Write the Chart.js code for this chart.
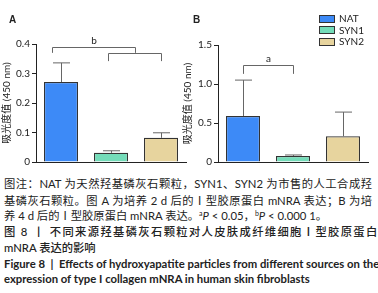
<!DOCTYPE html>
<html>
<head>
<meta charset="utf-8">
<script src="https://cdn.jsdelivr.net/npm/chart.js@4.4.1/dist/chart.umd.min.js"></script>
<style>
  body { margin: 0; background: #fff; width: 378px; height: 293px; overflow: hidden; position: relative;
         font-family: Lato, "Noto Sans CJK SC", sans-serif; color: #222; }
  canvas { position: absolute; top: 0; }
  .panel { position: absolute; font: bold 10px "Liberation Sans", Arial, sans-serif; }
  .legend { position: absolute; left: 319px; top: 13px; font-size: 10px; line-height: 11.5px; }
  .legend div { display: flex; align-items: center; height: 11.5px; }
  .legend span.sw { width: 14px; height: 6px; border: 1px solid #333; margin-right: 4px; }
  .cap { position: absolute; left: 4px; width: 368px; height: 16px; line-height: 16px; font-size: 11.3px; white-space: nowrap; }
  .full { text-align: justify; text-align-last: justify; }
  .bold { font-weight: bold; font-size: 11.3px; }
  sup { font-size: 7px; vertical-align: 4px; line-height: 0; }
</style>
</head>
<body>
<canvas id="chartA" width="190" height="172" style="left:0"></canvas>
<canvas id="chartB" width="196" height="172" style="left:182px"></canvas>
<div class="panel" style="left:9px;top:14px">A</div>
<div class="panel" style="left:193px;top:14px">B</div>
<div class="legend" id="legend"></div>

<div class="cap full" style="top:176px">图注：NAT 为天然羟基磷灰石颗粒，SYN1、SYN2 为市售的人工合成羟</div>
<div class="cap full" style="top:193px">基磷灰石颗粒。图 A 为培养 2 d 后的Ⅰ型胶原蛋白 mNRA 表达；B 为培</div>
<div class="cap" style="top:208px">养 4 d 后的Ⅰ型胶原蛋白 mNRA 表达。<sup>a</sup><i>P</i> &lt; 0.05，<sup>b</sup><i>P</i> &lt; 0.000 1。</div>
<div class="cap" style="top:224px;font-weight:500;letter-spacing:1.35px">图 8 丨 不同来源羟基磷灰石颗粒对人皮肤成纤维细胞Ⅰ型胶原蛋白</div>
<div class="cap" style="top:240px;font-weight:500">mNRA 表达的影响</div>
<div class="cap full bold" style="top:256px">Figure 8&nbsp; | &nbsp;Effects of hydroxyapatite particles from different sources on the</div>
<div class="cap bold" style="top:271px">expression of type I collagen mNRA in human skin fibroblasts</div>

<script>
// groups
const categories = ['NAT', 'SYN1', 'SYN2'];
const barColors = ['#3d8af7', '#74dcb9', '#e7d49e'];

// panel A: 2 d
const meansA = [0.271, 0.031, 0.082];
const errA = [0.065, 0.007, 0.017];
const ticksA = [0, 0.1, 0.2, 0.3, 0.4];

// panel B: 4 d
const meansB = [0.59, 0.077, 0.33];
const errB = [0.46, 0.013, 0.31];
const ticksB = [0, 0.5, 1.0, 1.5];

// significance brackets (x in category units, y in data units)
const bracketsA = [
  { from: -0.18, to: 1.48, y: 0.39, leg: 0.37, label: 'b' },
  { from: 0.94, to: 2.0, y: 0.37, leg: 0.342, label: '' }
];
const bracketsB = [
  { from: 0, to: 1, y: 1.24, leg: 1.13, label: 'a' }
];

const yTitle = '吸光度值 (450 nm)';
const fontFam = 'Lato, "Noto Sans CJK SC", sans-serif';

const extras = {
  id: 'extras',
  afterDatasetsDraw(chart, args, opts) {
    const ctx = chart.ctx;
    const xs = chart.scales.x, ys = chart.scales.y;
    const meta = chart.getDatasetMeta(0);
    ctx.save();
    // error bars (upper only)
    ctx.strokeStyle = '#666';
    ctx.lineWidth = 1;
    meta.data.forEach((bar, i) => {
      const top = ys.getPixelForValue(opts.means[i] + opts.errs[i]);
      const cap = bar.width * 0.25;
      const x = Math.round(bar.x) + 0.5;
      ctx.beginPath();
      ctx.moveTo(x, bar.y);
      ctx.lineTo(x, top);
      ctx.moveTo(x - cap, top);
      ctx.lineTo(x + cap, top);
      ctx.stroke();
    });
    // brackets
    const step = xs.getPixelForValue(1) - xs.getPixelForValue(0);
    const px = u => xs.getPixelForValue(0) + u * step;
    ctx.fillStyle = '#222';
    ctx.font = '10px ' + fontFam;
    ctx.textAlign = 'center';
    ctx.textBaseline = 'alphabetic';
    opts.brackets.forEach(b => {
      const x1 = Math.round(px(b.from)) + 0.5, x2 = Math.round(px(b.to)) + 0.5;
      const y0 = Math.round(ys.getPixelForValue(b.y)) + 0.5;
      const yl = ys.getPixelForValue(b.leg);
      ctx.beginPath();
      ctx.moveTo(x1, yl);
      ctx.lineTo(x1, y0);
      ctx.lineTo(x2, y0);
      ctx.lineTo(x2, yl);
      ctx.stroke();
      if (b.label) ctx.fillText(b.label, (x1 + x2) / 2, y0 - 4);
    });
    ctx.restore();
  }
};

function makeChart(id, means, errs, ticks, brackets, padRight, padTop, titlePad) {
  return new Chart(document.getElementById(id), {
    type: 'bar',
    data: {
      labels: categories,
      datasets: [{
        data: means,
        backgroundColor: barColors,
        borderColor: '#333',
        borderWidth: 1.2,
        categoryPercentage: 1,
        barPercentage: 0.68
      }]
    },
    options: {
      responsive: false,
      animation: false,
      devicePixelRatio: 1,
      layout: { padding: { left: 0, right: padRight, top: padTop, bottom: 10 } },
      plugins: {
        legend: { display: false },
        tooltip: { enabled: false },
        extras: { means: means, errs: errs, brackets: brackets }
      },
      scales: {
        x: {
          ticks: { display: false },
          grid: { drawOnChartArea: false, drawTicks: false },
          border: { color: '#222', width: 1 },
          afterFit: s => { s.height = 0; }
        },
        y: {
          min: ticks[0],
          max: ticks[ticks.length - 1],
          afterBuildTicks: s => { s.ticks = ticks.map(v => ({ value: v })); },
          ticks: {
            color: '#222',
            padding: 2,
            font: { family: fontFam, size: 10 },
            callback: v => v === 0 ? '0' : Number(v).toFixed(1)
          },
          grid: { drawOnChartArea: false, drawTicks: true, tickLength: 4, color: '#222' },
          border: { color: '#222', width: 1 },
          title: {
            display: true,
            text: yTitle,
            color: '#222',
            padding: titlePad,
            font: { family: fontFam, size: 10 }
          },
          afterFit: s => { s.width = 36; }
        }
      }
    },
    plugins: [extras]
  });
}

makeChart('chartA', meansA, errA, ticksA, bracketsA, 4, 44, 1);
makeChart('chartB', meansB, errB, ticksB, bracketsB, 10, 45, 0);

// legend
const lg = document.getElementById('legend');
categories.forEach((c, i) => {
  const row = document.createElement('div');
  row.innerHTML = '<span class="sw" style="background:' + barColors[i] + '"></span>' + c;
  lg.appendChild(row);
});
</script>
</body>
</html>
